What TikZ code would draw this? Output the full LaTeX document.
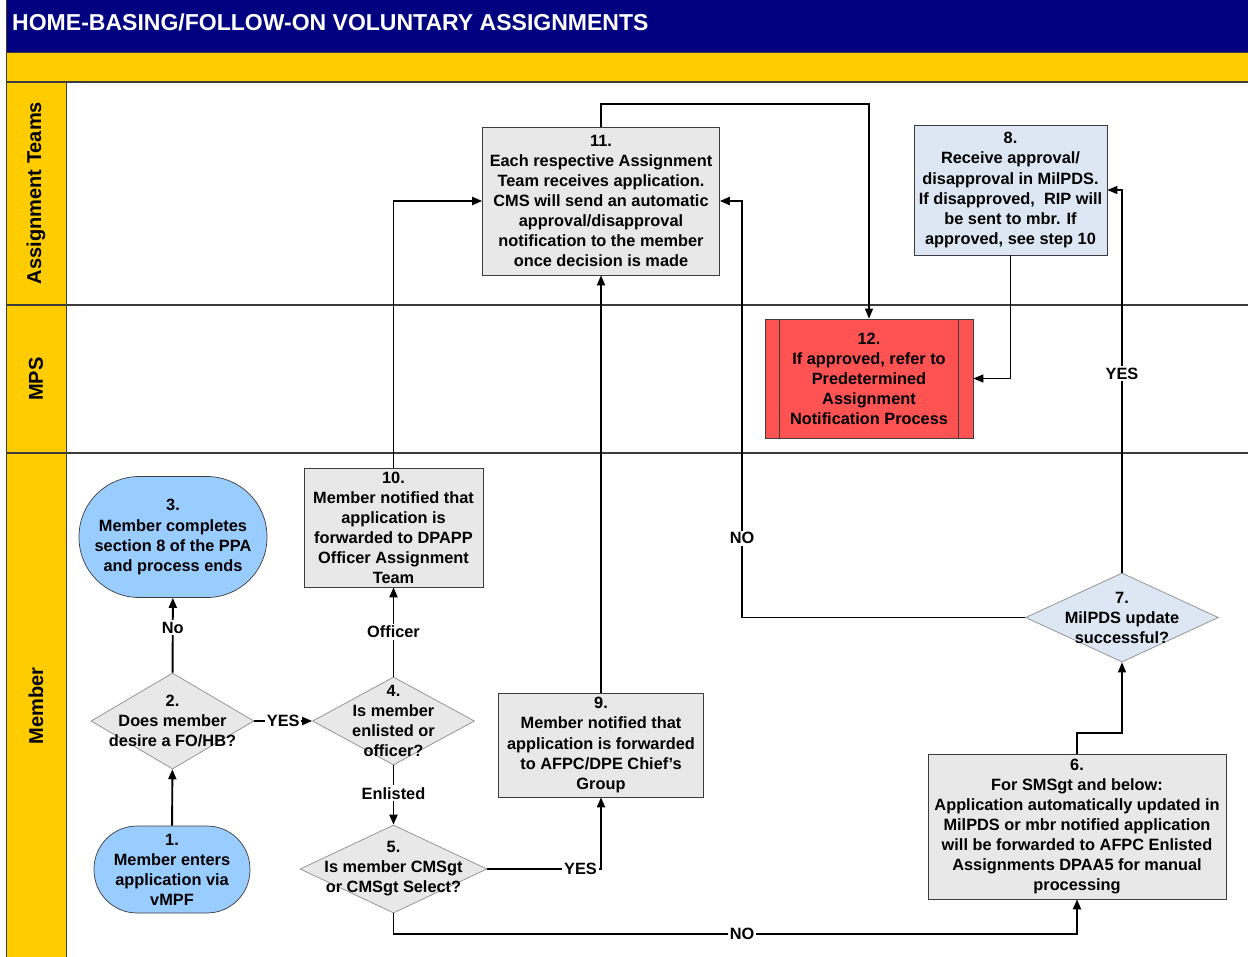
\documentclass[tikz,border=0pt]{standalone}
\usepackage{fontspec}
\setmainfont{Liberation Sans}
\usetikzlibrary{shapes.geometric,arrows.meta}
\definecolor{navyblue}{RGB}{0,0,128}
\definecolor{laneyellow}{RGB}{255,204,0}
\definecolor{boxgray}{RGB}{232,232,232}
\definecolor{paleblue}{RGB}{221,231,244}
\definecolor{skyblue}{RGB}{153,204,255}
\definecolor{alertred}{RGB}{255,82,82}
\definecolor{edge}{RGB}{60,60,60}

\begin{document}
\begin{tikzpicture}[x=0.02cm,y=-0.02cm,
  font=\fontsize{9.3}{11.4}\selectfont\bfseries,
  proc/.style={rectangle,draw=edge,fill=boxgray,align=center,inner sep=1pt},
  term/.style={rectangle,draw=edge,fill=skyblue,align=center,inner sep=1pt},
  decision/.style={diamond,draw=black!45,fill=boxgray,inner sep=0pt},
  txt/.style={align=center,inner sep=0pt},
  lbl/.style={fill=white,inner sep=1pt},
  lane/.style={rotate=90,font=\fontsize{11.4}{13}\selectfont\bfseries},
  flow/.style={line width=1.1pt,-{Triangle[length=2mm,width=1.6mm]}},
  thinflow/.style={line width=0.6pt,-{Triangle[length=2mm,width=1.6mm]}}]
\useasboundingbox (0,0) rectangle (1248,957);

% swim lanes
\fill[navyblue] (7,0) rectangle (1248,52);
\fill[laneyellow] (7,52) rectangle (1248,82);
\fill[laneyellow] (7,82) rectangle (66,957);
\draw[edge] (7,52) -- (1248,52);
\draw[edge,line width=0.8pt] (7,82) -- (1248,82);
\draw[edge,line width=0.8pt] (7,305) -- (1248,305);
\draw[edge,line width=0.8pt] (7,453) -- (1248,453);
\draw[edge] (66,82) -- (66,957);
\draw[edge,line width=1pt] (6.5,0) -- (6.5,957);
\node[anchor=west,text=white,font=\fontsize{13.1}{15}\selectfont\bfseries] (title) at (6,22)
  {HOME-BASING/FOLLOW-ON VOLUNTARY ASSIGNMENTS};
\node[lane] (teams) at (36,193) {Assignment Teams};
\node[lane] (mps) at (36,379) {MPS};
\node[lane] (member) at (36,706) {Member};

% steps
\node[term,rounded corners=0.86cm,minimum width=3.12cm,minimum height=1.74cm] (n1) at (172,869.5)
  {1.\\Member enters\\application via\\vMPF};
\node[decision,minimum width=3.26cm,minimum height=1.92cm] (n2) at (172.5,721) {};
\node[txt] (n2t) at (172.5,721) {2.\\Does member\\desire a FO/HB?};
\node[term,rounded corners=1.2cm,minimum width=3.76cm,minimum height=2.42cm] (n3) at (173,537)
  {3.\\Member completes\\section 8 of the PPA\\and process ends};
\node[decision,minimum width=3.24cm,minimum height=1.76cm] (n4) at (393.5,721) {};
\node[txt] (n4t) at (393.5,721) {4.\\Is member\\enlisted or\\officer?};
\node[decision,minimum width=3.74cm,minimum height=1.76cm] (n5) at (393.5,869) {};
\node[txt] (n5t) at (393.5,869) {5.\\Is member CMSgt\\or CMSgt Select?};
\node[proc,minimum width=5.96cm,minimum height=2.9cm] (n6) at (1077,826.5)
  {6.\\For SMSgt and below:\\Application automatically updated in\\MilPDS or mbr notified application\\will be forwarded to AFPC Enlisted\\Assignments DPAA5 for manual\\processing};
\node[decision,fill=paleblue,minimum width=3.86cm,minimum height=1.78cm] (n7) at (1122,617.5) {};
\node[txt] (n7t) at (1122,617.5) {7.\\MilPDS update\\successful?};
\node[proc,fill=paleblue,minimum width=3.86cm,minimum height=2.6cm] (n8) at (1010.5,190)
  {8.\\Receive approval/\\disapproval in MilPDS.\\If disapproved,\ \ RIP will\\be sent to mbr. If\\approved, see step 10};
\node[proc,minimum width=4.1cm,minimum height=2.08cm] (n9) at (601,745)
  {9.\\Member notified that\\application is forwarded\\to AFPC/DPE Chief's\\Group};
\node[proc,minimum width=3.58cm,minimum height=2.38cm] (n10) at (393.5,527.5)
  {10.\\Member notified that\\application is\\forwarded to DPAPP\\Officer Assignment\\Team};
\node[proc,minimum width=4.74cm,minimum height=2.96cm] (n11) at (601,201)
  {11.\\Each respective Assignment\\Team receives application.\\CMS will send an automatic\\approval/disapproval\\notification to the member\\once decision is made};
\node[proc,fill=alertred,minimum width=4.16cm,minimum height=2.38cm] (n12) at (869,378.5)
  {12.\\If approved, refer to\\Predetermined\\Assignment\\Notification Process};
\draw[edge] ([xshift=0.3cm]n12.north west) -- ([xshift=0.3cm]n12.south west);
\draw[edge] ([xshift=-0.3cm]n12.north east) -- ([xshift=-0.3cm]n12.south east);

% bends
\coordinate (c5) at (393.5,934);
\coordinate (c6) at (1077,733);
\coordinate (c7) at (742,617.5);
\coordinate (c11) at (601,104);

% connectors
\draw[flow] (n1) -- (n2);
\draw[flow] (n2) -- node[lbl,pos=0.6]{No} (n3);
\draw[flow] (n2) -- node[lbl,pos=0.5]{YES} (n4);
\draw[flow] (n4) -- node[lbl,pos=0.5]{Officer} (n10);
\draw[flow] (n4) -- node[lbl,pos=0.47]{Enlisted} (n5);
\draw[flow] (n5.east) -| node[lbl,pos=0.41]{YES} (n9.south);
\draw[flow] (n5.south) -- (c5) -| node[lbl,pos=0.255]{NO} (n6.south);
\draw[thinflow] (n6.north) -- (c6) -| (n7.south);
\draw[thinflow] (n7.north) |- node[lbl,pos=0.26]{YES} (n8.east);
\draw[flow] (n7.west) -- (c7) |- node[lbl,pos=0.095]{NO} (n11.east);
\draw[flow] (n9.north) -- (n11.south);
\draw[flow] (n10.north) |- (n11.west);
\draw[thinflow] (n11.north) -- (c11) -| (n12.north);
\draw[thinflow] (n8.south) |- (n12.east);
\end{tikzpicture}
\end{document}
